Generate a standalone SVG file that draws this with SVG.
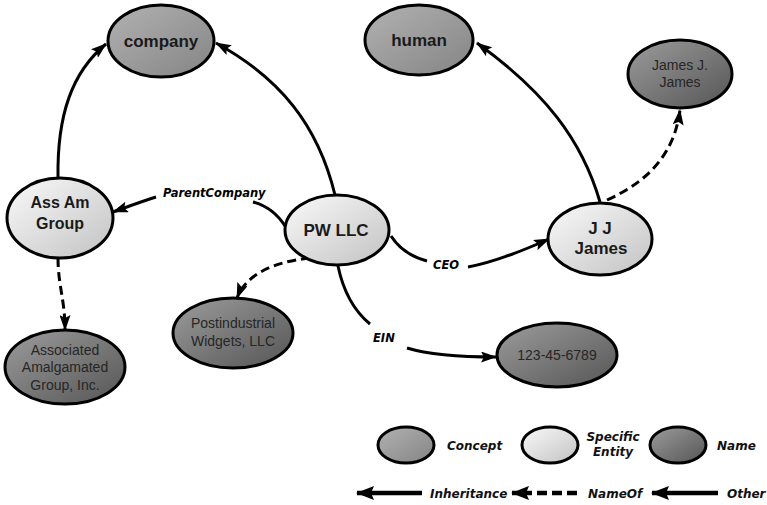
<svg xmlns="http://www.w3.org/2000/svg" width="767" height="505" viewBox="0 0 767 505">
  <defs>
    <linearGradient id="gConcept" x1="0" y1="0" x2="1" y2="1">
      <stop offset="0" stop-color="#b2b2b2"/>
      <stop offset="1" stop-color="#848484"/>
    </linearGradient>
    <linearGradient id="gEntity" x1="0" y1="0" x2="1" y2="1">
      <stop offset="0" stop-color="#fafafa"/>
      <stop offset="1" stop-color="#c2c2c2"/>
    </linearGradient>
    <linearGradient id="gName" x1="0" y1="0" x2="1" y2="1">
      <stop offset="0" stop-color="#9c9c9c"/>
      <stop offset="1" stop-color="#555555"/>
    </linearGradient>
    <marker id="arrow" markerUnits="userSpaceOnUse" markerWidth="16" markerHeight="11" refX="15" refY="5.5" orient="auto">
      <path d="M0,0 L16,5.5 L0,11 L3,5.5 z" fill="#000"/>
    </marker>
    <marker id="arrowBig" markerUnits="userSpaceOnUse" markerWidth="18" markerHeight="14" refX="17" refY="7" orient="auto">
      <path d="M0,0 L18,7 L0,14 L3,7 z" fill="#000"/>
    </marker>
    <style>
      .node { stroke: #000; stroke-width: 3; }
      .concept { fill: url(#gConcept); }
      .entity { fill: url(#gEntity); }
      .name { fill: url(#gName); }
      .lbl { font-family: "Liberation Sans", Arial, sans-serif; font-weight: bold; font-size: 17px; fill: #1a1a1a; text-anchor: middle; }
      .nm { font-family: "Liberation Sans", Arial, sans-serif; font-size: 14px; fill: #262626; text-anchor: middle; }
      .edge { fill: none; stroke: #000; stroke-width: 3; }
      .dash { stroke-dasharray: 9 5; }
      .elbl { font-family: "DejaVu Sans", Verdana, sans-serif; font-weight: bold; font-style: italic; font-size: 11.5px; fill: #000; }
      .leg { font-family: "DejaVu Sans", Verdana, sans-serif; font-weight: bold; font-style: italic; font-size: 12px; fill: #111; }
      .legline { fill: none; stroke: #000; stroke-width: 4.5; }
    </style>
  </defs>

  <rect width="767" height="505" fill="#fff"/>

  <!-- connectors -->
  <g id="connectors">
    <!-- inheritance -->
    <path class="edge" d="M58 178 C57 115 72 72 106 44" marker-end="url(#arrow)"/>
    <path class="edge" d="M335 195 C318 125 280 78 216 43" marker-end="url(#arrow)"/>
    <path class="edge" d="M600 202 C582 140 545 92 477 43" marker-end="url(#arrow)"/>
    <!-- name-of -->
    <path class="edge dash" d="M607 200 C652 180 675 150 680 110" marker-end="url(#arrow)"/>
    <path class="edge dash" d="M58 258 C58 285 65 300 65 330" marker-end="url(#arrow)"/>
    <path class="edge dash" d="M310 258 C272 262 246 275 237 298" marker-end="url(#arrow)"/>
    <!-- ParentCompany -->
    <path class="edge" d="M285 226 C278 215 268 206 253 202"/>
    <path class="edge" d="M156 197 C140 202 127 207 113 212" marker-end="url(#arrow)"/>
    <text class="elbl" x="163" y="197">ParentCompany</text>
    <!-- CEO -->
    <path class="edge" d="M391 236 C400 250 412 257 427 261"/>
    <path class="edge" d="M468 267 C495 262 520 252 549 239" marker-end="url(#arrow)"/>
    <text class="elbl" x="433" y="269">CEO</text>
    <!-- EIN -->
    <path class="edge" d="M338 266 C343 290 353 310 370 324"/>
    <path class="edge" d="M407 348 C430 355 460 357 496 357" marker-end="url(#arrow)"/>
    <text class="elbl" x="373" y="342">EIN</text>
  </g>

  <!-- nodes -->
  <g id="company">
    <ellipse class="node concept" cx="161" cy="41" rx="53" ry="36"/>
    <text class="lbl" x="161" y="47">company</text>
  </g>
  <g id="human">
    <ellipse class="node concept" cx="419" cy="40" rx="54" ry="35"/>
    <text class="lbl" x="419" y="46">human</text>
  </g>
  <g id="james-j-james">
    <ellipse class="node name" cx="680" cy="74" rx="52" ry="34"/>
    <text class="nm" x="680" y="70">James J.</text>
    <text class="nm" x="680" y="87">James</text>
  </g>
  <g id="ass-am-group">
    <ellipse class="node entity" cx="60" cy="218" rx="53" ry="40"/>
    <text class="lbl" x="60" y="208" style="font-size:16px">Ass Am</text>
    <text class="lbl" x="60" y="229" style="font-size:16px">Group</text>
  </g>
  <g id="pw-llc">
    <ellipse class="node entity" cx="337" cy="230" rx="52" ry="35"/>
    <text class="lbl" x="336" y="236">PW LLC</text>
  </g>
  <g id="jj-james">
    <ellipse class="node entity" cx="600" cy="239" rx="52" ry="36"/>
    <text class="lbl" x="600" y="234">J J</text>
    <text class="lbl" x="601" y="254">James</text>
  </g>
  <g id="postindustrial">
    <ellipse class="node name" cx="233" cy="333" rx="60" ry="35"/>
    <text class="nm" x="233" y="328">Postindustrial</text>
    <text class="nm" x="233" y="346">Widgets, LLC</text>
  </g>
  <g id="associated">
    <ellipse class="node name" cx="65" cy="367" rx="60" ry="37"/>
    <text class="nm" x="65" y="355">Associated</text>
    <text class="nm" x="65" y="372">Amalgamated</text>
    <text class="nm" x="65" y="390">Group, Inc.</text>
  </g>
  <g id="ein-number">
    <ellipse class="node name" cx="557" cy="355" rx="60" ry="32"/>
    <text class="nm" x="557" y="360">123-45-6789</text>
  </g>

  <!-- legend -->
  <g id="legend">
    <ellipse class="node concept" cx="406" cy="445" rx="28" ry="18"/>
    <text class="leg" x="447" y="450">Concept</text>
    <ellipse class="node entity" cx="550" cy="445" rx="28" ry="18"/>
    <text class="leg" x="613" y="441" text-anchor="middle">Specific</text>
    <text class="leg" x="613" y="456" text-anchor="middle">Entity</text>
    <ellipse class="node name" cx="678" cy="445" rx="28" ry="18"/>
    <text class="leg" x="717" y="450">Name</text>

    <path class="legline" d="M422 493 L357 493" marker-end="url(#arrowBig)"/>
    <text class="leg" x="430" y="498">Inheritance</text>
    <path class="legline" d="M577 493 L512 493" stroke-dasharray="10 5" marker-end="url(#arrowBig)"/>
    <text class="leg" x="588" y="498">NameOf</text>
    <path class="legline" d="M718 493 L652 493" marker-end="url(#arrowBig)"/>
    <text class="leg" x="727" y="498">Other</text>
  </g>
</svg>
